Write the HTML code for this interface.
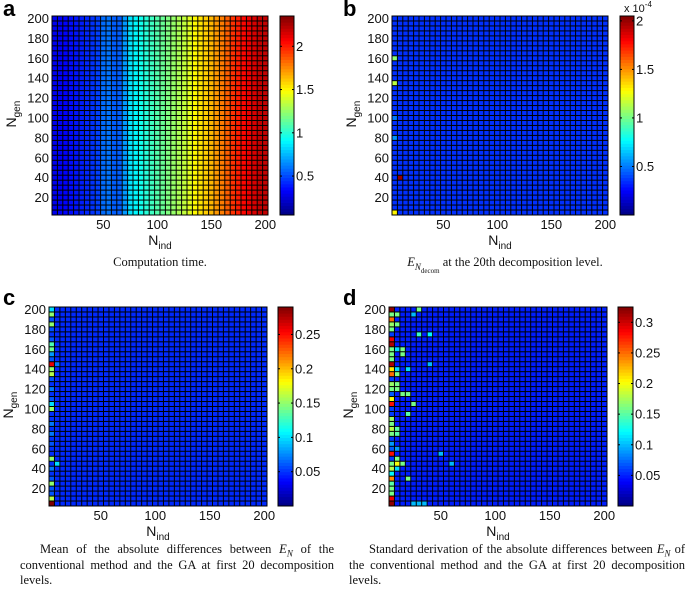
<!DOCTYPE html>
<html><head><meta charset="utf-8">
<style>
body{margin:0;background:#fff;width:685px;height:589px;overflow:hidden;position:relative;font-family:"Liberation Sans",sans-serif}
svg{position:absolute;left:0;top:0}
.cap{position:absolute;font-family:"Liberation Serif",serif;font-size:12.5px;color:#111;line-height:15.5px}
.cap i{font-style:italic}
.cap sub{line-height:0}
</style></head><body>
<svg id="fig" width="685" height="589"></svg>
<div class="cap" style="left:60px;top:255px;width:200px;text-align:center">Computation time.</div>
<div class="cap" style="left:370px;top:255px;width:270px;text-align:center"><i>E</i><sub style="font-size:9px"><i>N</i><sub style="font-size:7px">decom</sub></sub> at the 20th decomposition level.</div>
<div class="cap" style="left:20px;top:542px;width:314px;text-align:justify;text-indent:20px">Mean of the absolute differences between <i>E<sub style="font-size:9px">N</sub></i> of the conventional method and the GA at first 20 decomposition levels.</div>
<div class="cap" style="left:349px;top:542px;width:336px;text-align:justify;text-indent:20px">Standard derivation of the absolute differences between <i>E<sub style="font-size:9px">N</sub></i> of the conventional method and the GA at first 20 decomposition levels.</div>
<script>
// grid categories
const xCats=[];for(let i=5;i<=200;i+=5)xCats.push(i);
const yCats=xCats.slice();
const xTicks=[50,100,150,200];
const yTicks=[20,40,60,80,100,120,140,160,180,200];
// panel a: column profile
const aCols=[0.3,0.32,0.34,0.36,0.38,0.4,0.42,0.45,0.48,0.58,0.6,0.55,0.55,0.68,0.85,0.9,0.95,1.0,1.05,1.1,1.15,1.2,1.25,1.3,1.35,1.42,1.5,1.55,1.6,1.65,1.72,1.78,1.85,1.95,2.0,2.05,2.1,2.15,2.2,2.2];
const aCbTicks=[0.5,1,1.5,2];
// panel b (x1e-4)
const bBase=0.35;
const bOutX=[5,5,5,5,5,10];
const bOutY=[160,135,5,100,80,40];
const bOutV=[1.05,1.15,1.3,0.5,0.55,2.0];
const bCbTicks=[0.5,1,1.5,2];
// panel c
const cBase=0.048;
const cCol1=[0.29,0.16,0.06,0.06,0.15,0.06,0.05,0.07,0.05,0.15,0.05,0.05,0.06,0.05,0.07,0.05,0.07,0.05,0.05,0.15,0.1,0.06,0.05,0.07,0.05,0.06,0.16,0.15,0.26,0.06,0.08,0.14,0.13,0.06,0.05,0.06,0.15,0.06,0.15,0.1];
const cOutX=[10,10];
const cOutY=[45,145];
const cOutV=[0.1,0.07];
const cCbTicks=[0.05,0.1,0.15,0.2,0.25];
// panel d
const dBase=0.05;
const dCol1=[0.32,0.29,0.16,0.16,0.15,0.24,0.12,0.18,0.16,0.06,0.28,0.07,0.09,0.06,0.16,0.18,0.16,0.17,0.06,0.06,0.28,0.2,0.07,0.16,0.17,0.06,0.25,0.21,0.31,0.16,0.16,0.16,0.31,0.29,0.06,0.16,0.17,0.25,0.16,0.32];
const dOutX=[10,10,10,10,10,10,10,10,10,10,10,10,10,15,15,15,15,20,20,20,20,25,25,30,30,40,40,50,60,25,30,35];
const dOutY=[195,185,160,140,135,125,120,80,75,60,50,45,40,160,155,115,45,115,140,95,30,105,195,200,175,175,145,55,45,5,5,5];
const dOutV=[0.16,0.16,0.11,0.11,0.16,0.16,0.16,0.15,0.15,0.09,0.16,0.2,0.11,0.16,0.16,0.16,0.16,0.16,0.11,0.15,0.16,0.16,0.1,0.16,0.14,0.12,0.1,0.1,0.1,0.1,0.1,0.1];
const dCbTicks=[0.05,0.1,0.15,0.2,0.25,0.3];

const NS='http://www.w3.org/2000/svg';
const svg=document.getElementById('fig');
function mk(tag,at,parent){const e=document.createElementNS(NS,tag);for(const k in at)e.setAttribute(k,at[k]);(parent||svg).appendChild(e);return e;}
function jet(f){f=Math.max(0,Math.min(1,f));
 const r=Math.max(0,Math.min(1,1.5-Math.abs(4*f-3)));
 const g=Math.max(0,Math.min(1,1.5-Math.abs(4*f-2)));
 const b=Math.max(0,Math.min(1,1.5-Math.abs(4*f-1)));
 return 'rgb('+Math.round(r*255)+','+Math.round(g*255)+','+Math.round(b*255)+')';}

function panel(P){
 const g=mk('g',{});
 
 
 const W=P.x1-P.x0,H=P.y1-P.y0;
 const xs=v=>P.x0+(v-2.5)/200*W;
 const ys=v=>P.y1-(v-2.5)/200*H;
 const bg=mk('rect',{x:P.x0,y:P.y0,width:W,height:H,fill:'#000'},g);
 
 
 const cw=W/40,ch=H/40;
 for(let i=0;i<40;i++)for(let j=0;j<40;j++){
  const v=P.val(i,j);
  const f=(v-P.vmin)/(P.vmax-P.vmin);
  const c=mk('rect',{x:(xs(xCats[i]-2.5)+0.5).toFixed(2),y:(ys(yCats[j]+2.5)+0.5).toFixed(2),width:(cw-1).toFixed(2),height:(ch-1).toFixed(2),fill:jet(f)},g);
  
  
 }
 const fr=mk('rect',{x:P.x0,y:P.y0,width:W,height:H,fill:'none',stroke:'#000','stroke-width':1},g);
 
 
 xTicks.forEach(t=>{
  const tl=mk('text',{x:xs(t),y:P.y1+14,'text-anchor':'middle','font-size':13,fill:'#111'},g);tl.textContent=t;
  
  
 });
 yTicks.forEach(t=>{
  const tl=mk('text',{x:P.x0-3,y:ys(t)+4.5,'text-anchor':'end','font-size':13,fill:'#111'},g);tl.textContent=t;
  
  
 });
 const xl=mk('text',{x:(P.x0+P.x1)/2,y:P.y1+30,'text-anchor':'middle','font-size':14,fill:'#111'},g);
 xl.innerHTML='N<tspan font-size="10" dy="4">ind</tspan>';
 
 
 const cy=(P.y0+P.y1)/2;
 const tx=P.x0-36;
 const yl=mk('text',{x:tx,y:cy+12,'font-size':14,fill:'#111',transform:'rotate(-90 '+tx+' '+(cy+12)+')'},g);
 yl.innerHTML='N<tspan font-size="10" dy="4">gen</tspan>';
 
 
 const lt=mk('text',{x:P.lx,y:P.ly,'font-size':22,'font-weight':'bold',fill:'#000'},g);lt.textContent=P.id;
 
 
 // colorbar
 const cb=mk('g',{},g);
 
 
 const n=64,sh=H/n;
 for(let k=0;k<n;k++){mk('rect',{x:P.cx0,y:(P.y1-(k+1)*sh).toFixed(2),width:P.cx1-P.cx0,height:(sh+0.4).toFixed(2),fill:jet((k+0.5)/n)},cb);}
 mk('rect',{x:P.cx0,y:P.y0,width:P.cx1-P.cx0,height:H,fill:'none',stroke:'#000','stroke-width':1},cb);
 const cs=v=>P.y1-(v-P.vmin)/(P.vmax-P.vmin)*H;
 P.cbTicks.forEach(t=>{
  const y=cs(t);
  mk('line',{x1:P.cx0,x2:P.cx0+2,y1:y,y2:y,stroke:'#000'},cb);
  mk('line',{x1:P.cx1-2,x2:P.cx1,y1:y,y2:y,stroke:'#000'},cb);
  const tl=mk('text',{x:P.cx1+2,y:y+4.5,'font-size':13,fill:'#111'},cb);tl.textContent=t;
  
  
 });
 if(P.exp){const e=mk('text',{x:P.cx0+4,y:P.y0-4,'font-size':11,fill:'#111'},cb);e.innerHTML='x 10<tspan font-size="8" dy="-5">-4</tspan>';
  
  }
}
function outl(X,Y,V,i,j){for(let k=0;k<X.length;k++)if(X[k]===xCats[i]&&Y[k]===yCats[j])return V[k];return null;}

panel({id:'a',x0:52,x1:268,y0:16,y1:215,cx0:280,cx1:294,lx:3,ly:16,vmin:0.05,vmax:2.35,cbTicks:aCbTicks,
 val:(i,j)=>aCols[i]});
panel({id:'b',x0:392,x1:608,y0:16,y1:215,cx0:620,cx1:634,lx:343,ly:16,vmin:0,vmax:2.05,cbTicks:bCbTicks,exp:true,
 val:(i,j)=>{const o=outl(bOutX,bOutY,bOutV,i,j);return o!==null?o:bBase;}});
panel({id:'c',x0:49,x1:267,y0:307,y1:506,cx0:278,cx1:293,lx:3,ly:305,vmin:0,vmax:0.29,cbTicks:cCbTicks,
 val:(i,j)=>{if(i===0)return cCol1[j];const o=outl(cOutX,cOutY,cOutV,i,j);return o!==null?o:cBase;}});
panel({id:'d',x0:389,x1:607,y0:307,y1:506,cx0:618,cx1:633,lx:343,ly:305,vmin:0,vmax:0.325,cbTicks:dCbTicks,
 val:(i,j)=>{if(i===0)return dCol1[j];const o=outl(dOutX,dOutY,dOutV,i,j);return o!==null?o:dBase;}});
</script>
</body></html>
